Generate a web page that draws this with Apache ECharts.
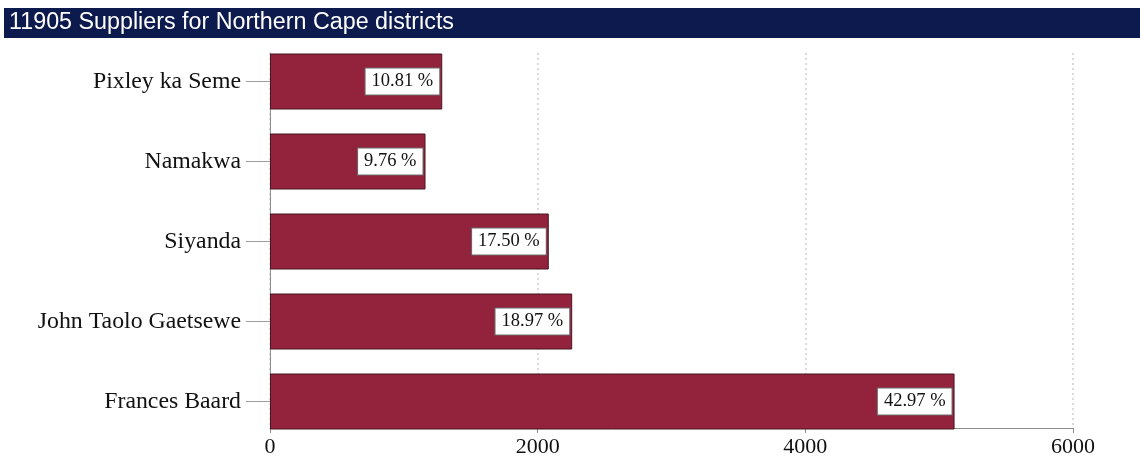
<!DOCTYPE html>
<html>
<head>
<meta charset="utf-8">
<script src="https://cdn.jsdelivr.net/npm/echarts@6/dist/echarts.min.js"></script>
<style>
  html, body { margin: 0; padding: 0; background: #fff; }
  #chart { width: 1140px; height: 458px; }
</style>
</head>
<body>
<div id="chart"></div>
<script>
// Districts listed top to bottom
const districts = ['Pixley ka Seme', 'Namakwa', 'Siyanda', 'John Taolo Gaetsewe', 'Frances Baard'];
// Supplier counts per district
const suppliers = [1287, 1162, 2083, 2258, 5115];
// Value axis ticks
const xTicks = [0, 2000, 4000, 6000];

const total = suppliers.reduce((a, b) => a + b, 0);
const serif = 'Liberation Serif, Times New Roman, serif';

const chart = echarts.init(document.getElementById('chart'), null, { renderer: 'canvas' });

chart.setOption({
  animation: false,
  backgroundColor: '#ffffff',
  title: {
    text: total + ' Suppliers for Northern Cape districts',
    left: 9,
    top: 11,
    padding: 0,
    textStyle: { color: '#ffffff', fontFamily: 'Liberation Sans, Arial, sans-serif', fontSize: 23.3, fontWeight: 'normal' }
  },
  graphic: [{
    type: 'rect',
    z: -1,
    shape: { x: 4, y: 8, width: 1136, height: 30 },
    style: { fill: '#0d1a4d' }
  }],
  grid: [
    // frame: value axis, dotted gridlines, vertical axis line
    { left: 270, right: 67, top: 53, bottom: 28 },
    // bars and category labels
    { left: 270, right: 67, top: 41.5, height: 400 }
  ],
  xAxis: [
    {
      gridIndex: 0,
      type: 'value',
      min: xTicks[0],
      max: xTicks[xTicks.length - 1],
      interval: xTicks[1] - xTicks[0],
      axisLine: { show: true, lineStyle: { color: '#8c8c8c', width: 1 } },
      axisTick: { show: true, length: 5, lineStyle: { color: '#8c8c8c' } },
      axisLabel: { color: '#111', fontFamily: serif, fontSize: 22, margin: 8, formatter: v => String(v) },
      splitLine: { show: true, lineStyle: { color: '#cfcfcf', type: [2, 3], width: 1.5 } }
    },
    {
      gridIndex: 1,
      type: 'value',
      min: xTicks[0],
      max: xTicks[xTicks.length - 1],
      show: false
    }
  ],
  yAxis: [
    {
      gridIndex: 0,
      type: 'category',
      data: districts,
      inverse: true,
      axisLine: { show: true, lineStyle: { color: '#8c8c8c', width: 1 } },
      axisTick: { show: false },
      axisLabel: { show: false },
      splitLine: { show: false }
    },
    {
      gridIndex: 1,
      type: 'category',
      data: districts,
      inverse: true,
      axisLine: { show: false },
      axisTick: { show: true, alignWithLabel: true, length: 24, lineStyle: { color: '#a0a0a0' } },
      axisLabel: { color: '#111', fontFamily: serif, fontSize: 23.8, margin: 29 },
      splitLine: { show: false }
    }
  ],
  series: [{
    type: 'bar',
    xAxisIndex: 1,
    yAxisIndex: 1,
    data: suppliers,
    barWidth: 56,
    itemStyle: { color: '#93233d', borderColor: '#4a1525', borderWidth: 1 },
    label: {
      show: true,
      position: 'insideRight',
      distance: 3,
      formatter: p => (p.value / total * 100).toFixed(2) + ' %',
      color: '#111',
      fontFamily: serif,
      fontSize: 18.5,
      backgroundColor: '#ffffff',
      borderColor: '#6a6a6a',
      borderWidth: 1,
      padding: [4, 6, 3, 6]
    }
  }]
});
</script>
</body>
</html>
